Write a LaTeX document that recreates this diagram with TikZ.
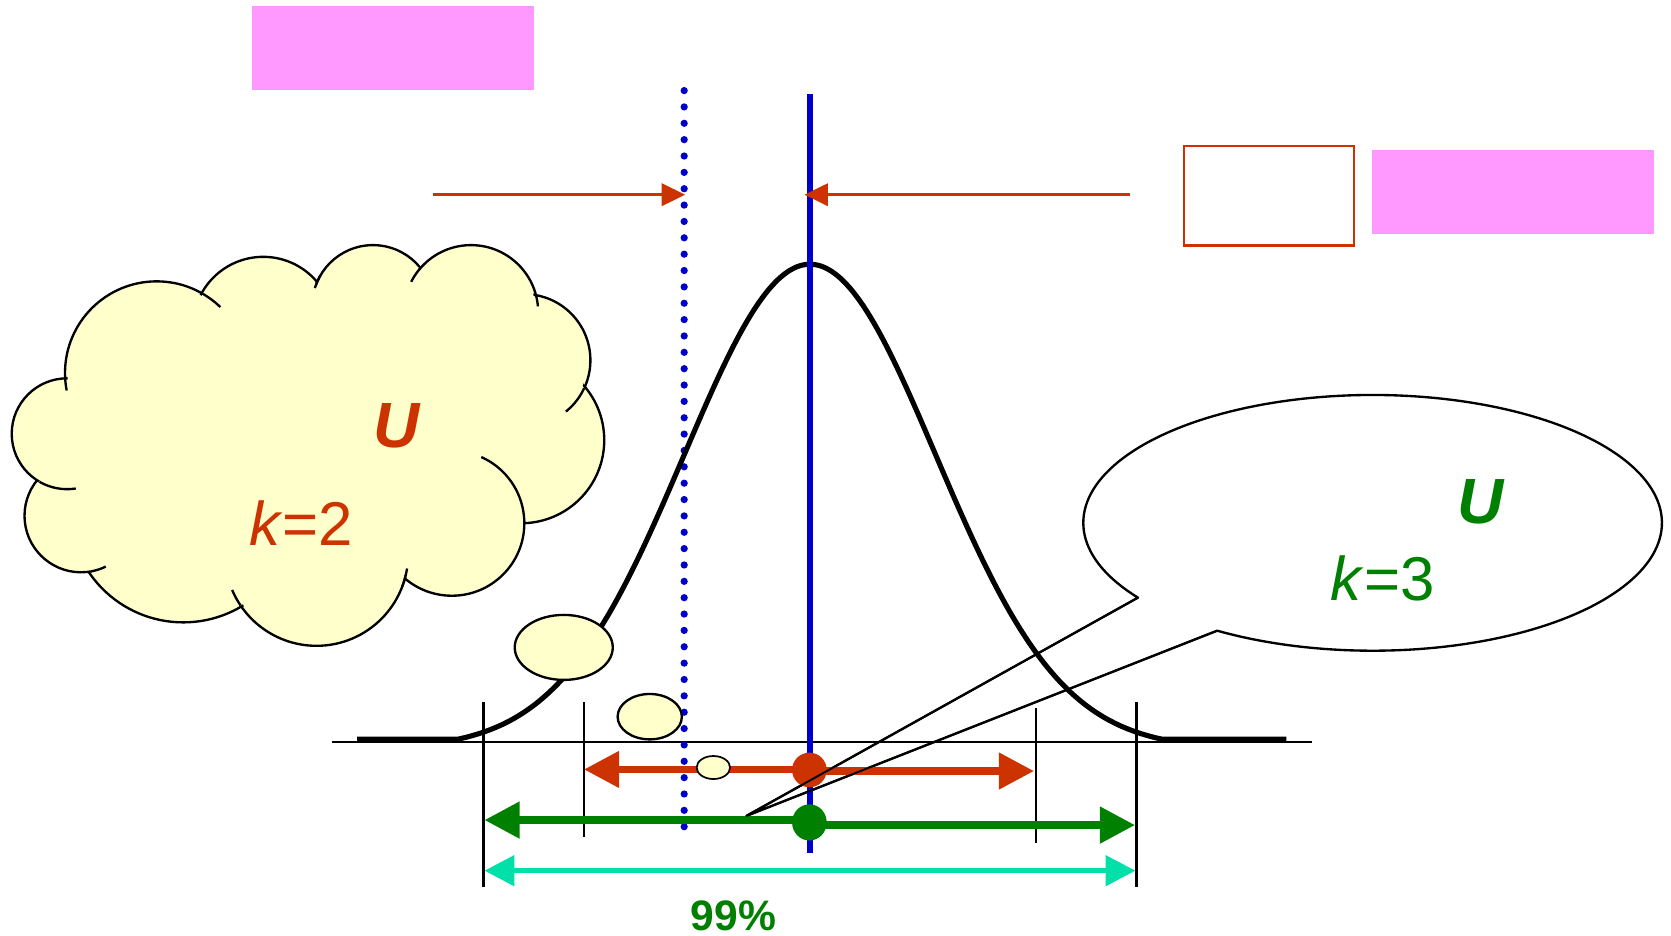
\documentclass[tikz,border=0pt]{standalone}
\usepackage{fontspec}
\setmainfont{Liberation Sans}
\usetikzlibrary{arrows.meta,shapes.geometric}
\definecolor{pinkc}{HTML}{FF99FF}
\definecolor{redc}{HTML}{CC3300}
\definecolor{bluec}{HTML}{0000CC}
\definecolor{greenc}{HTML}{008000}
\definecolor{cyanc}{HTML}{00E0A8}
\definecolor{yellowc}{HTML}{FFFFCC}
\begin{document}
\begin{tikzpicture}[x=1pt,y=-1pt,
  pinkbox/.style={fill=pinkc, draw=none, inner sep=0pt, outer sep=0pt},
  redbox/.style={draw=redc, line width=2.5pt, fill=white, inner sep=0pt, outer sep=0pt},
  toparrow/.style={draw=redc, line width=2.4pt, -{Triangle[length=22pt,width=21pt]}},
  tick/.style={draw=black, line width=2pt},
  bigred/.style={draw=redc, line width=6.8pt, -{Triangle[length=33pt,width=33pt]}},
  biggreen/.style={draw=greenc, line width=7pt, -{Triangle[length=33pt,width=33pt]}},
  bigcyan/.style={draw=cyanc, line width=4.8pt, {Triangle[length=28pt,width=28pt]}-{Triangle[length=28pt,width=28pt]}},
  dotnode/.style={circle, inner sep=0pt, outer sep=0pt, draw=none},
  smallbub/.style={ellipse, fill=yellowc, draw=black, line width=2.2pt, inner sep=0pt},
  cloudline/.style={draw=black, line width=2.2pt},
  txt/.style={inner sep=0pt, outer sep=0pt}
]
\useasboundingbox (0,0) rectangle (1568,878);

% top boxes
\node[pinkbox, minimum width=264.6pt, minimum height=78.9pt] (p1) at (368.8,45) {};
\node[pinkbox, minimum width=264.6pt, minimum height=78.8pt] (p2) at (1419.7,180.2) {};
\node[redbox, minimum width=159.5pt, minimum height=93.2pt] (rb) at (1190.8,183.6) {};

% top arrows
\coordinate (aLs) at (406.4,182.7);
\coordinate (aLt) at (642.9,182.7);
\coordinate (aRs) at (1060.3,182.7);
\coordinate (aRt) at (754.9,182.7);

% speech bubble body
\coordinate (ta) at ({1288+271.5*cos(144.2)},{490.6+120*sin(144.2)});
\coordinate (tb) at ({1288+271.5*cos(482.5)},{490.6+120*sin(482.5)});
\coordinate (tip) at (700.2,765.7);
\filldraw[fill=white, draw=black, line width=2.2pt, line join=round]
  plot[domain=144.2:482.5, samples=180] ({1288+271.5*cos(\x)},{490.6+120*sin(\x)}) -- (tip) -- cycle;

% cloud
\foreach \cx/\cy/\r in {147/350/86, 247/307/66, 350/287/57, 442/293/63, 492/338/62, 489/413/78, 424/491/68, 297/520/86, 172/477/107, 76/484/53, 63/407/52}
  \filldraw[fill=yellowc, cloudline] (\cx,\cy) circle[radius=\r];
\foreach \cx/\cy/\r in {147/350/86, 247/307/66, 350/287/57, 442/293/63, 492/338/62, 489/413/78, 424/491/68, 297/520/86, 172/477/107, 76/484/53, 63/407/52}
  \fill[yellowc] (\cx,\cy) circle[radius=\r-2.3];
\fill[yellowc] (147,350) -- (247,307) -- (350,287) -- (442,293) -- (492,338) -- (489,413) -- (424,491) -- (297,520) -- (172,477) -- (76,484) -- (63,407) -- cycle;
% inner hooks of the cloud
\foreach \cx/\cy/\r/\ta/\tb in {147/350/86/-60/-46, 350/287/57/197/210, 442/293/63/207/221, 442/293/63/345/355, 492/338/62/25/51, 424/491/68/294/360, 297/520/86/9/21, 297/520/86/146/157, 76/484/53/64/80, 63/407/52/81/120, 147/350/86/169/177}
  \draw[cloudline] plot[domain=\ta:\tb, samples=20] ({\cx+\r*cos(\x)},{\cy+\r*sin(\x)});

% baseline and ticks
\coordinate (bl) at (312,696.3);
\coordinate (br) at (1231,696.3);
\draw[line width=2pt] (bl) -- (br);
\coordinate (t1a) at (453.7,659);   \coordinate (t1b) at (453.7,832.6);
\coordinate (t2a) at (547.7,659);   \coordinate (t2b) at (547.7,785.1);
\coordinate (t3a) at (972.5,664.7); \coordinate (t3b) at (972.5,790.7);
\coordinate (t4a) at (1066.4,659);  \coordinate (t4b) at (1066.4,832.6);
\draw[tick] (t1a) -- (t1b);
\draw[tick] (t2a) -- (t2b);
\draw[tick] (t3a) -- (t3b);
\draw[tick] (t4a) -- (t4b);

% dotted blue line
\coordinate (dtop) at (642,85);
\coordinate (dbot) at (642,791);
\draw[bluec, line width=6.8pt, line cap=round, dash pattern=on 0pt off 15.35pt] (dtop) -- (dbot);

% bell curve
\draw[black, line width=4.8pt, line join=round]
  (335,693.5) -- (430,693.5)
  -- plot[domain=-330:330, samples=161, smooth] ({760+\x},{693.5-445.5*(exp(-0.5*(\x/118)*(\x/118))-0.02003)/0.97997})
  -- (1207,693.5);

% solid blue line
\coordinate (btop) at (760,88);
\coordinate (bbot) at (760,800.7);
\draw[bluec, line width=5pt] (btop) -- (bbot);

% top arrows drawn
\draw[toparrow] (aLs) -- (aLt);
\draw[toparrow] (aRs) -- (aRt);

% red double arrow
\coordinate (rc) at (759.5,722.5);
\coordinate (rcl) at (759.5,722);
\coordinate (rcr) at (759.5,723.5);
\coordinate (rL) at (548,722);
\coordinate (rR) at (970.3,723.5);
\draw[bigred] (rcl) -- (rL);
\draw[bigred] (rcr) -- (rR);

% green double arrow
\coordinate (gc) at (759.5,771.7);
\coordinate (gcl) at (759.5,769.5);
\coordinate (gcr) at (759.5,774.2);
\coordinate (gL) at (454.6,769.5);
\coordinate (gR) at (1065.1,774.2);
\draw[biggreen] (gcl) -- (gL);
\draw[biggreen] (gcr) -- (gR);

% cyan arrow
\coordinate (cL) at (454.6,817);
\coordinate (cR) at (1065.5,817);
\draw[bigcyan] (cL) -- (cR);

% dots
\node[dotnode, fill=redc, minimum size=32.5pt] (rdot) at (rc) {};
\node[dotnode, fill=greenc, minimum width=32.5pt, minimum height=34pt, ellipse] (gdot) at (gc) {};

% small thought bubbles
\node[smallbub, minimum width=92pt, minimum height=61pt] (sb1) at (529,607.5) {};
\node[smallbub, minimum width=60.3pt, minimum height=42.6pt] (sb2) at (609.7,672.5) {};
\node[smallbub, line width=1.6pt, minimum width=31.4pt, minimum height=21.6pt] (sb3) at (669.4,720.2) {};

% bubble tail on top
\draw[black, line width=1.8pt, line join=miter] (ta) -- (tip) -- (tb);

% texts
\node[txt, text=redc, font=\fontsize{60}{60}\selectfont\bfseries\itshape] (u1) at (372.5,399.5) {U};
\node[txt, text=redc, font=\fontsize{58}{58}\selectfont] (k1) at (282.5,491) {\textit{k}=2};
\node[txt, text=greenc, font=\fontsize{60}{60}\selectfont\bfseries\itshape] (u2) at (1389.5,471) {U};
\node[txt, text=greenc, font=\fontsize{58}{58}\selectfont] (k2) at (1297.7,542.3) {\textit{k}=3};
\node[txt, text=greenc, font=\fontsize{40}{40}\selectfont\bfseries] (pct) at (688.3,859) {99\%};
\end{tikzpicture}
\end{document}
